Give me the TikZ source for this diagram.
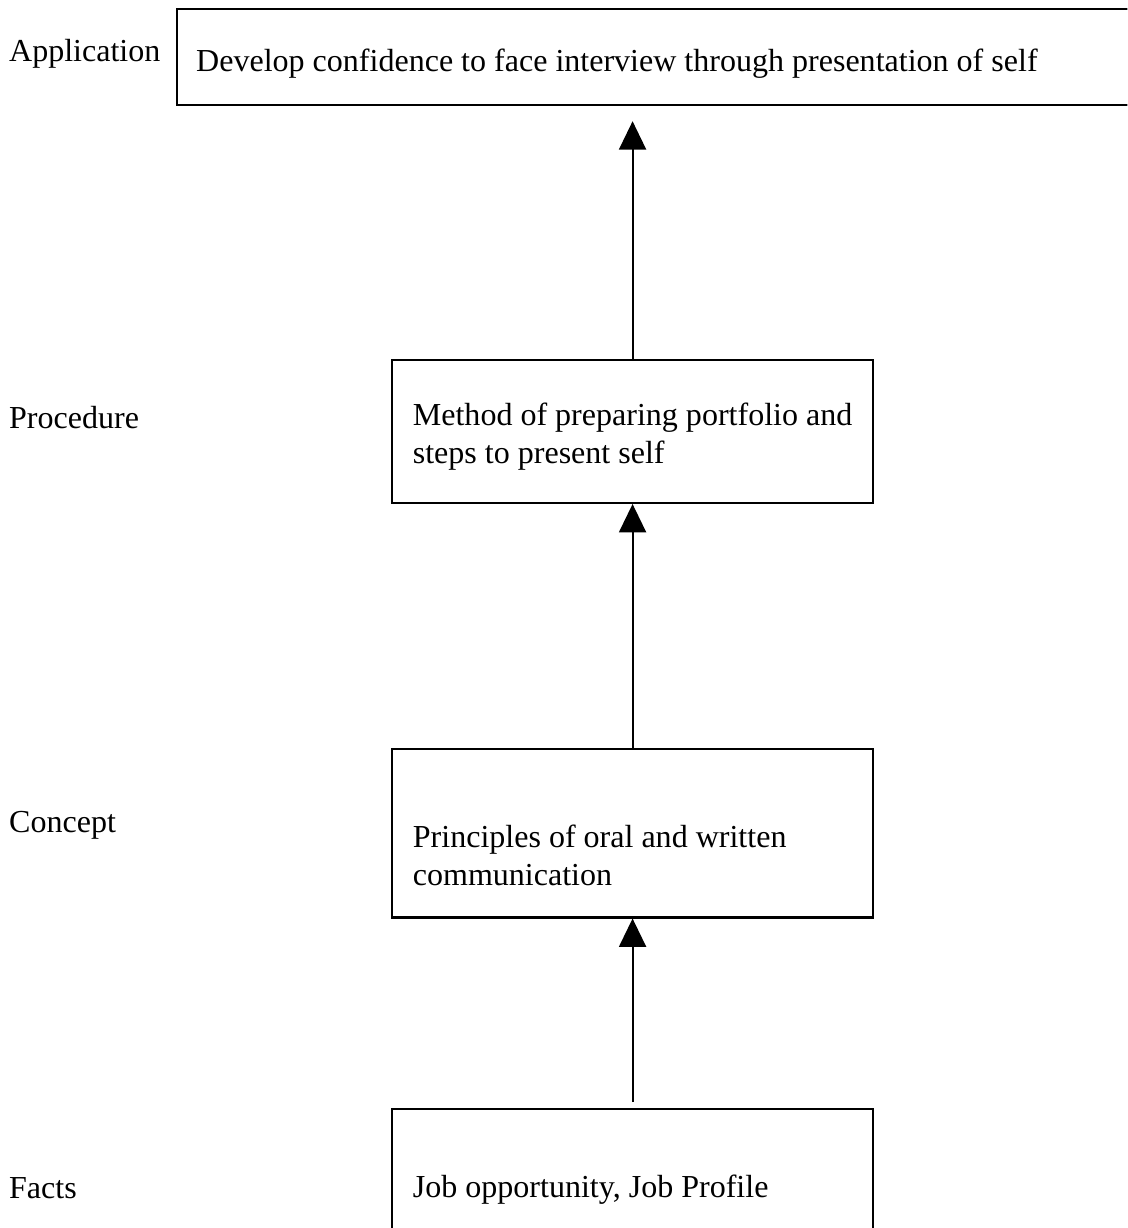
\documentclass[tikz,border=0pt]{standalone}
\usepackage{fontspec}
\setmainfont{Liberation Serif}
\usetikzlibrary{arrows.meta}
\begin{document}
\begin{tikzpicture}[line width=0.9pt, font=\fontsize{13.5}{16}\selectfont,
    box/.style={draw, minimum width=7.13cm, inner sep=0},
    txt/.style={inner sep=0, align=left, anchor=west},
    arr/.style={line width=0.8pt, -{Triangle[width=0.4cm,length=0.42cm]}}]
        \useasboundingbox (0,0) rectangle (16.70,-18.19);
        \clip (0,0) rectangle (16.70,-18.19);
        \draw (10.12,-0.845) node[box, minimum width=15cm, minimum height=1.43cm] (appl) {};
        \draw (9.37,-6.39)   node[box, minimum height=2.12cm] (proc) {};
        \draw (9.37,-12.345) node[box, minimum height=2.49cm] (conc) {};
        \draw (9.37,-17.93)  node[box, minimum height=3cm] (fact) {};
        \node[txt] (appllabel) at (0.12,-0.80)  {Application};
        \node[txt] (proclabel) at (0.12,-6.18)  {Procedure};
        \node[txt] (conclabel) at (0.12,-12.23) {Concept};
        \node[txt] (factlabel) at (0.12,-17.60) {Facts};
        \node[txt] (appltext) at (2.89,-0.94)  {Develop confidence to face interview through presentation of self};
        \node[txt] (proctext) at (6.10,-6.47)  {Method of preparing portfolio and\\steps to present self};
        \node[txt] (conctext) at (6.10,-12.67) {Principles of oral and written\\communication};
        \node[txt] (facttext) at (6.10,-17.62) {Job opportunity, Job Profile};
        \coordinate (appltip) at ([yshift=-0.22cm]proc.north |- appl.south);
        \draw[arr] (proc.north) -- (appltip);
        \draw[arr] (conc.north) -- (proc.south);
        \draw[arr] ([yshift=0.09cm]fact.north) -- (conc.south);
    \end{tikzpicture}
\end{document}
